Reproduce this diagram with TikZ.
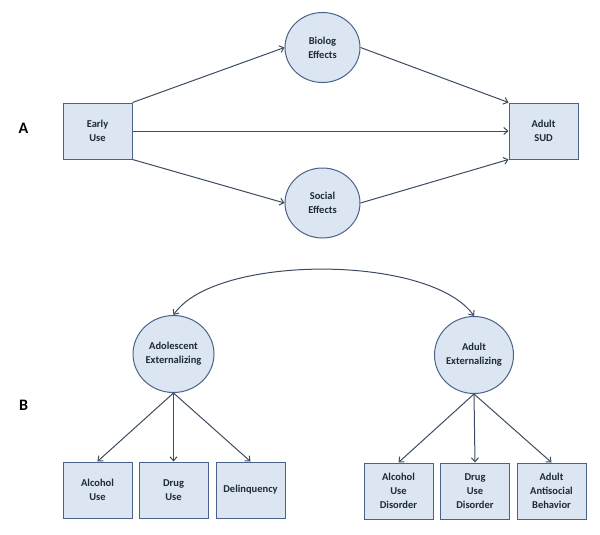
\documentclass[tikz,border=0pt]{standalone}
\usepackage{fontspec}
\setmainfont{Carlito}
\usetikzlibrary{arrows.meta,shapes.geometric}
\definecolor{boxfill}{HTML}{DCE6F2}
\definecolor{boxline}{HTML}{4A6287}
\definecolor{arrline}{HTML}{3C4B63}
\definecolor{txtcol}{HTML}{1E2A3A}
\tikzset{
  obs/.style={draw=boxline,fill=boxfill,line width=1pt,minimum width=69pt,minimum height=56pt,
    inner sep=0pt,align=center,text=txtcol,font=\fontsize{10.5}{14}\selectfont\bfseries},
  lat/.style={ellipse,draw=boxline,fill=boxfill,line width=1pt,inner sep=0pt,align=center,
    text=txtcol,font=\fontsize{10.5}{14}\selectfont\bfseries},
  path/.style={draw=arrline,line width=1pt,-{Straight Barb[length=4pt,width=7pt]}},
  panel/.style={text=black,font=\fontsize{16}{18}\selectfont\bfseries}
}
\begin{document}
\begin{tikzpicture}[x=1pt,y=1pt]
\useasboundingbox (0,0) rectangle (600,-535);
   \node[panel] at (23.5,-128)  (A) {A};
   \node[panel] at (23.5,-405)  (B) {B};
   \node[obs] at (97.5,-131)  (early) {Early\\Use};
   \node[lat,minimum width=75pt,minimum height=70pt] at (322.5,-47.5)  (biolog) {Biolog\\Effects};
   \node[lat,minimum width=75pt,minimum height=70pt] at (322.5,-203)  (social) {Social\\Effects};
   \node[obs] at (543.5,-131)  (adultsud) {Adult\\SUD};
    \draw[path] (early.north east)   -- (biolog.west);
    \draw[path] (early.east)   -- (adultsud.west);
    \draw[path] (early.south east)   -- (social.west);
    \draw[path] (biolog.east)   -- (adultsud.north west);
    \draw[path] (social.east)   -- (adultsud.south west);
   \node[lat,minimum width=81pt,minimum height=77pt] at (173.5,-354)  (adolext) {Adolescent\\Externalizing};
   \node[lat,minimum width=79pt,minimum height=77pt] at (474,-355)  (adultext) {Adult\\Externalizing};
   \draw[path,{Straight Barb[length=4pt,width=7pt]}-{Straight Barb[length=4pt,width=7pt]}] (adolext.north) .. controls (215,-254) and (430,-254) .. (adultext.north);
   \node[obs] at (97.5,-490)  (alcuse) {Alcohol\\Use};
   \node[obs] at (173.5,-490)  (druguse) {Drug\\Use};
   \node[obs] at (250.5,-490)  (delinq) {Delinquency};
   \node[obs] at (398.5,-491)  (aud) {Alcohol\\Use\\Disorder};
   \node[obs] at (475,-491)  (dud) {Drug\\Use\\Disorder};
   \node[obs] at (551.5,-491)  (aab) {Adult\\Antisocial\\Behavior};
    \draw[path] (adolext.south)   -- (alcuse.north);
    \draw[path] (adolext.south)   -- (druguse.north);
    \draw[path] (adolext.south)   -- (delinq.north);
    \draw[path] (adultext.south)   -- (aud.north);
    \draw[path] (adultext.south)   -- (dud.north);
    \draw[path] (adultext.south)   -- (aab.north);
\end{tikzpicture}
\end{document}
